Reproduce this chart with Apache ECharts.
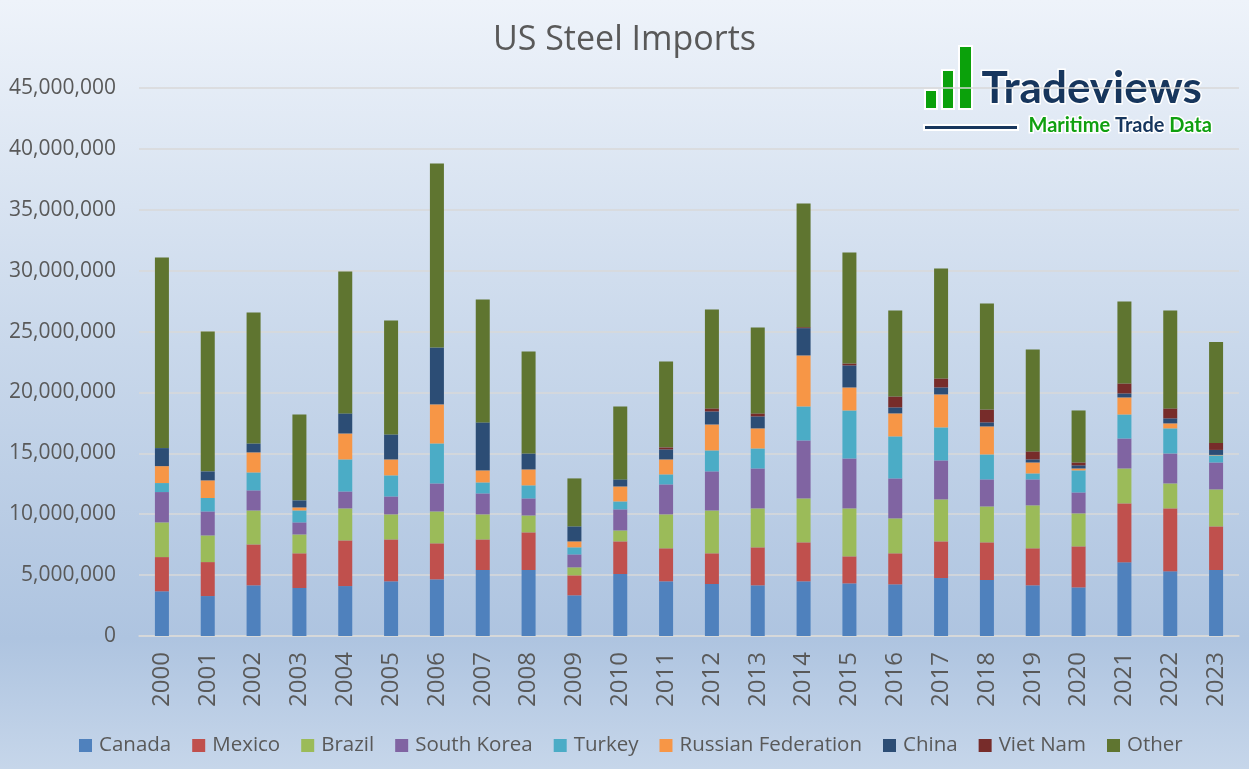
<!DOCTYPE html>
<html>
<head>
<meta charset="utf-8">
<script src="https://cdn.jsdelivr.net/npm/echarts@6/dist/echarts.min.js"></script>
<style>
html,body{margin:0;padding:0;width:1249px;height:769px;overflow:hidden;}
#chart{width:1249px;height:769px;background:linear-gradient(to bottom,#EEF3FA 0%,#C9D8EB 45%,#AEC4E0 83%,#C6D6EA 100%);}
</style>
</head>
<body>
<div id="chart"></div>
<script>
const years = ['2000','2001','2002','2003','2004','2005','2006','2007','2008','2009','2010','2011','2012','2013','2014','2015','2016','2017','2018','2019','2020','2021','2022','2023'];
const seriesNames = ['Canada','Mexico','Brazil','South Korea','Turkey','Russian Federation','China','Viet Nam','Other'];
const yTicks = [0,5000000,10000000,15000000,20000000,25000000,30000000,35000000,40000000,45000000];
// values in millions of tonnes
const canada      = [3.67,3.28,4.16,3.94,4.10,4.49,4.65,5.42,5.42,3.34,5.09,4.49,4.27,4.16,4.49,4.32,4.24,4.76,4.60,4.16,3.99,6.05,5.31,5.42];
const mexico      = [2.81,2.79,3.36,2.85,3.75,3.44,2.96,2.51,3.09,1.64,2.68,2.71,2.52,3.12,3.20,2.22,2.55,3.01,3.09,3.04,3.37,4.84,5.17,3.58];
const brazil      = [2.85,2.19,2.79,1.55,2.63,2.06,2.62,2.06,1.39,0.66,0.90,2.79,3.52,3.20,3.61,3.94,2.87,3.45,2.95,3.53,2.71,2.87,2.05,3.04];
const southKorea  = [2.49,1.97,1.65,0.99,1.39,1.47,2.30,1.72,1.40,1.06,1.73,2.46,3.21,3.28,4.76,4.10,3.28,3.20,2.22,2.13,1.72,2.46,2.46,2.21];
const turkey      = [0.74,1.10,1.47,0.98,2.63,1.73,3.28,0.90,1.07,0.58,0.65,0.82,1.72,1.64,2.79,3.94,3.45,2.71,2.05,0.49,1.81,1.97,2.06,0.58];
const russia      = [1.39,1.45,1.65,0.25,2.13,1.31,3.21,0.99,1.31,0.49,1.23,1.23,2.13,1.65,4.19,1.89,1.89,2.71,2.30,0.90,0.16,1.40,0.41,0.04];
const china       = [1.48,0.74,0.73,0.58,1.65,2.05,4.67,3.94,1.31,1.23,0.58,0.82,1.07,0.98,2.24,1.81,0.49,0.57,0.33,0.25,0.25,0.33,0.41,0.41];
const vietNam     = [0.00,0.00,0.00,0.00,0.00,0.00,0.00,0.00,0.00,0.00,0.00,0.17,0.25,0.25,0.08,0.16,0.90,0.74,1.06,0.66,0.24,0.82,0.82,0.57];
const other       = [15.65,11.49,10.76,7.05,11.65,9.36,15.11,10.09,8.38,3.94,5.99,7.05,8.12,7.06,10.15,9.11,7.06,9.03,8.71,8.37,4.27,6.73,8.04,8.29];
const seriesValues = [canada,mexico,brazil,southKorea,turkey,russia,china,vietNam,other];
const colors = ['#4F81BD','#C0504D','#9BBB59','#8064A2','#4BACC6','#F79646','#2C4D75','#772C2A','#5F7530'];

const FONT = '"Open Sans", "Noto Sans", sans-serif';
const LOGO_FONT = '"Lato", "Open Sans", sans-serif';
const chart = echarts.init(document.getElementById('chart'), null, {renderer:'canvas'});

const series = seriesNames.map((name,i)=>({
  name: name,
  type: 'bar',
  stack: 'total',
  barWidth: 14,
  itemStyle: {color: colors[i]},
  data: seriesValues[i].map(v=>Math.round(v*1000000))
}));

chart.setOption({
  animation: false,
  color: colors,
  title: {
    text: 'US Steel Imports',
    left: 'center',
    top: 18,
    textStyle: {fontFamily: FONT, fontSize: 34, fontWeight: 'normal', color: '#595959'}
  },
  legend: {
    bottom: 8,
    left: 74,
    itemWidth: 13,
    itemHeight: 13,
    itemGap: 21,
    icon: 'rect',
    textStyle: {fontFamily: FONT, fontSize: 20.5, color: '#595959', padding:[0,0,0,2]},
    data: seriesNames
  },
  grid: {left: 139, right: 10, top: 88, bottom: 133, containLabel: false},
  xAxis: {
    type: 'category',
    data: years,
    axisLine: {show: true, lineStyle: {color: '#D9D9D9', width: 1.5}},
    axisTick: {show: false},
    axisLabel: {rotate: 90, fontFamily: FONT, fontSize: 24, color: '#595959', margin: 16}
  },
  yAxis: {
    type: 'value',
    min: yTicks[0],
    max: yTicks[yTicks.length-1],
    interval: yTicks[1]-yTicks[0],
    axisLine: {show: false},
    axisTick: {show: false},
    splitLine: {lineStyle: {color: '#D9D9D9', width: 1.5}},
    axisLabel: {
      fontFamily: FONT, fontSize: 21, color: '#595959', margin: 23,
      formatter: v => v.toLocaleString('en-US')
    }
  },
  graphic: [
    {type:'rect', shape:{x:925,y:90,width:12,height:19}, style:{fill:'#0BA10B', stroke:'#ffffff', lineWidth:2}},
    {type:'rect', shape:{x:942,y:70,width:12,height:39}, style:{fill:'#0BA10B', stroke:'#ffffff', lineWidth:2}},
    {type:'rect', shape:{x:959,y:46,width:13,height:63}, style:{fill:'#0BA10B', stroke:'#ffffff', lineWidth:2}},
    {type:'text', left:980, top:65, style:{text:'Tradeviews', font:'bold 44px ' + LOGO_FONT, fill:'#17365D', stroke:'#ffffff', lineWidth:3}},
    {type:'rect', shape:{x:924,y:125,width:94,height:5}, style:{fill:'#17365D', stroke:'#ffffff', lineWidth:2}},
    {type:'text', left:1027, top:114, style:{
      text:'{g|Maritime }{n|Trade }{g|Data}',
      rich:{
        g:{fontFamily:LOGO_FONT, fontWeight:'bold', fontSize:20, fill:'#10A010', stroke:'#ffffff', lineWidth:3},
        n:{fontFamily:LOGO_FONT, fontWeight:'bold', fontSize:20, fill:'#17365D', stroke:'#ffffff', lineWidth:3}
      }
    }}
  ],
  series: series
});
</script>
</body>
</html>
